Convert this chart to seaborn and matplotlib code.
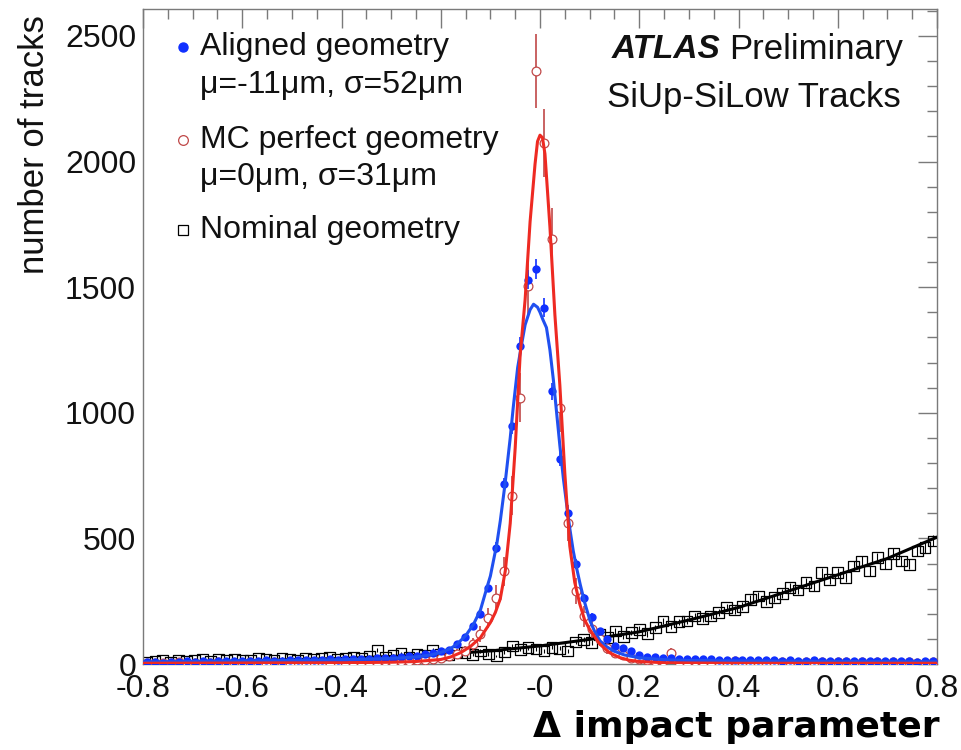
import numpy as np
import pandas as pd
import matplotlib
matplotlib.use("Agg")
import matplotlib.pyplot as plt
import seaborn as sns
from matplotlib.ticker import MultipleLocator, FixedLocator, FixedFormatter

# ---------------------------------------------------------------
# Histogram binning: 100 bins over [-0.8, 0.8]
# ---------------------------------------------------------------
x_min, x_max, n_bins = -0.8, 0.8, 100

# Track counts per bin
aligned_counts = [
    6, 8, 5, 9, 7, 10, 8, 11, 9, 10,
    12, 10, 13, 11, 12, 14, 12, 13, 15, 14,
    16, 15, 17, 18, 16, 19, 18, 20, 21, 22,
    24, 23, 27, 30, 33, 38, 45, 50, 56, 78,
    108, 152, 198, 304, 463, 715, 947, 1266, 1530, 1572,
    1418, 1085, 815, 600, 397, 264, 188, 131, 98, 70,
    64, 52, 34, 29, 26, 24, 22, 21, 20, 19,
    18, 19, 17, 16, 17, 15, 16, 15, 14, 15,
    13, 14, 13, 12, 14, 12, 13, 11, 12, 13,
    11, 12, 10, 11, 12, 10, 11, 9, 10, 12,
]

mc_perfect_counts = [
    3, 5, 2, 4, 6, 3, 5, 4, 3, 6,
    4, 5, 3, 6, 4, 5, 7, 4, 5, 6,
    5, 7, 6, 5, 8, 6, 7, 9, 8, 7,
    10, 9, 12, 11, 14, 16, 20, 24, 30, 40,
    52, 78, 120, 184, 264, 370, 670, 1060, 1505, 2360,
    2074, 1690, 1020, 560, 290, 190, 140, 100, 62, 44,
    35, 22, 18, 14, 12, 10, 45, 9, 8, 10,
    7, 9, 8, 6, 10, 7, 8, 6, 9, 7,
    6, 8, 5, 7, 6, 9, 5, 7, 6, 5,
    7, 5, 6, 4, 7, 5, 6, 4, 5, 6,
]

nominal_counts = [
    6, 10, 14, 8, 16, 12, 15, 18, 11, 17,
    14, 20, 16, 13, 21, 18, 15, 22, 19, 16,
    24, 18, 21, 26, 20, 23, 28, 22, 30, 55,
    26, 34, 42, 28, 38, 33, 55, 40, 36, 48,
    45, 38, 52, 40, 32, 48, 72, 58, 65, 60,
    52, 66, 62, 52, 88, 98, 85, 118, 105, 131,
    108, 125, 138, 120, 145, 171, 150, 168, 171, 191,
    182, 191, 205, 224, 215, 230, 258, 271, 250, 264,
    280, 304, 295, 324, 310, 363, 335, 363, 345, 390,
    410, 370, 423, 398, 440, 410, 397, 450, 463, 490,
]

# MC event weight used for the statistical errors of the simulated sample
mc_weight = 9.0

# Fitted curves sampled along the x axis
aligned_fit_x = [-0.80, -0.60, -0.40, -0.30, -0.25, -0.22, -0.20, -0.18, -0.168, -0.15,
                 -0.134, -0.12, -0.107, -0.10, -0.087, -0.08, -0.0705, -0.06, -0.054, -0.045,
                 -0.037, -0.03, -0.02, -0.013, -0.005, 0.0, 0.006, 0.013, 0.02, 0.027,
                 0.034, 0.04, 0.047, 0.054, 0.06, 0.067, 0.074, 0.081, 0.09, 0.101,
                 0.11, 0.121, 0.135, 0.148, 0.17, 0.20, 0.25, 0.30, 0.40, 0.60, 0.80]
aligned_fit_y = [8, 12, 17, 22, 28, 36, 46, 62, 78, 112,
                 158, 215, 304, 350, 478, 570, 716, 900, 1020, 1180,
                 1273, 1350, 1410, 1432, 1420, 1400, 1370, 1339, 1250, 1130,
                 990, 870, 740, 630, 540, 450, 380, 317, 245, 171,
                 130, 92, 68, 52, 36, 25, 17, 14, 12, 10, 9]

mc_fit_x = [-0.80, -0.60, -0.40, -0.30, -0.25, -0.20, -0.18, -0.16, -0.14, -0.12,
            -0.10, -0.09, -0.08, -0.07, -0.06, -0.05, -0.04, -0.03, -0.02, -0.01,
            -0.005, 0.0, 0.005, 0.01, 0.02, 0.03, 0.04, 0.05, 0.06, 0.07,
            0.08, 0.09, 0.10, 0.12, 0.14, 0.16, 0.18, 0.20, 0.25, 0.30, 0.40, 0.60, 0.80]
mc_fit_y = [3, 4, 5, 7, 10, 18, 28, 45, 70, 105,
            165, 205, 260, 370, 560, 860, 1230, 1450, 1760, 1990,
            2080, 2105, 2095, 2030, 1740, 1390, 1110, 760, 470, 325,
            240, 175, 138, 80, 45, 26, 15, 10, 5, 4, 3, 3, 3]

nominal_fit_x = [-0.8, -0.6, -0.4, -0.2, -0.1, 0.0, 0.1, 0.2, 0.3, 0.4, 0.5, 0.6, 0.7, 0.8]
nominal_fit_y = [5, 12, 22, 38, 52, 72, 98, 128, 175, 225, 290, 355, 420, 505]

# Text
legend_entries = [
    ("Aligned geometry", "\u03bc=-11\u03bcm, \u03c3=52\u03bcm"),
    ("MC perfect geometry", "\u03bc=0\u03bcm, \u03c3=31\u03bcm"),
    ("Nominal geometry", None),
]
x_tick_values = [-0.8, -0.6, -0.4, -0.2, 0.0, 0.2, 0.4, 0.6, 0.8]
x_tick_labels = ["-0.8", "-0.6", "-0.4", "-0.2", "-0", "0.2", "0.4", "0.6", "0.8"]
y_tick_values = [0, 500, 1000, 1500, 2000, 2500]
y_tick_labels = ["0", "500", "1000", "1500", "2000", "2500"]

# ---------------------------------------------------------------
bin_width = (x_max - x_min) / n_bins
centers = x_min + (np.arange(n_bins) + 0.5) * bin_width

hist = pd.DataFrame({
    "x": centers,
    "aligned": aligned_counts,
    "mc": mc_perfect_counts,
    "nominal": nominal_counts,
})
hist["aligned_err"] = np.sqrt(hist["aligned"])
hist["mc_err"] = np.sqrt(mc_weight * hist["mc"])
hist["nominal_err"] = np.sqrt(hist["nominal"])

sns.set_theme(style="white")
plt.rcParams["font.family"] = ["Liberation Sans", "DejaVu Sans"]

BLUE = "#1030ff"
BLUE_LINE = "#2050f0"
RED_LINE = "#ee2a22"
RED_MARK = "#c04848"
FRAME = "#7a7a7a"
INK = "#111111"

fig = plt.figure(figsize=(9.61, 7.5), dpi=100)
ax = fig.add_axes([143 / 961, 86 / 750, 794 / 961, 654.7 / 750])

# nominal geometry
ax.errorbar(hist["x"], hist["nominal"], yerr=hist["nominal_err"], fmt="none",
            ecolor="black", elinewidth=0.8, zorder=2)
sns.scatterplot(data=hist, x="x", y="nominal", ax=ax, marker="s", s=60,
                facecolor="none", edgecolor="black", linewidth=0.9, zorder=2)
sns.lineplot(x=nominal_fit_x, y=nominal_fit_y, ax=ax, color="black", linewidth=2.2,
             sort=False, estimator=None, zorder=3)

# MC perfect geometry
ax.errorbar(hist["x"], hist["mc"], yerr=hist["mc_err"], fmt="none",
            ecolor=RED_MARK, elinewidth=1.2, zorder=4)
sns.scatterplot(data=hist, x="x", y="mc", ax=ax, marker="o", s=40,
                facecolor="white", edgecolor=RED_MARK, linewidth=0.9, zorder=4)

# aligned geometry
ax.errorbar(hist["x"], hist["aligned"], yerr=hist["aligned_err"], fmt="none",
            ecolor=BLUE, elinewidth=1.2, zorder=5)
sns.scatterplot(data=hist, x="x", y="aligned", ax=ax, marker="o", s=36,
                color=BLUE, linewidth=0, zorder=5)
sns.lineplot(x=aligned_fit_x, y=aligned_fit_y, ax=ax, color=BLUE_LINE, linewidth=2.2,
             sort=False, estimator=None, zorder=6)
sns.lineplot(x=mc_fit_x, y=mc_fit_y, ax=ax, color=RED_LINE, linewidth=2.2,
             sort=False, estimator=None, zorder=7)

# axes
ax.set_xlim(x_min, x_max)
ax.set_ylim(0, 2606)
ax.set_xlabel("")
ax.set_ylabel("")
ax.xaxis.set_major_locator(FixedLocator(x_tick_values))
ax.xaxis.set_major_formatter(FixedFormatter(x_tick_labels))
ax.xaxis.set_minor_locator(MultipleLocator(0.05))
ax.yaxis.set_major_locator(FixedLocator(y_tick_values))
ax.yaxis.set_major_formatter(FixedFormatter(y_tick_labels))
ax.yaxis.set_minor_locator(MultipleLocator(100))
ax.tick_params(which="both", direction="in", top=True, right=True, color=FRAME,
               width=1.0, labelsize=23, labelcolor=INK)
ax.tick_params(which="major", length=14)
ax.tick_params(which="minor", length=7)
ax.tick_params(axis="x", pad=7)
ax.tick_params(axis="y", pad=5)
for sp in ax.spines.values():
    sp.set_color(FRAME)
    sp.set_linewidth(1.0)
    sp.set_visible(True)

# legend drawn in axes coordinates
tr = ax.transAxes
mx, tx = 0.0504, 0.0718
ax.plot([mx], [0.9424], marker="o", ms=6.5, color=BLUE, mec=BLUE, transform=tr, clip_on=False, zorder=9)
ax.plot([mx], [0.800], marker="o", ms=7, mfc="white", mec=RED_MARK, mew=0.9, transform=tr, clip_on=False, zorder=9)
ax.plot([mx], [0.663], marker="s", ms=7.5, mfc="white", mec="black", mew=0.9, transform=tr, clip_on=False, zorder=9)
text_rows = [0.9424, 0.884, 0.800, 0.744, 0.663]
lines = []
for title, sub in legend_entries:
    lines.append(title)
    if sub:
        lines.append(sub)
for yy, s in zip(text_rows, lines):
    ax.text(tx, yy, s, transform=tr, fontsize=23, va="center", ha="left", color=INK, zorder=9)

# experiment label
atlas = ax.text(0.5907, 0.938, "ATLAS", transform=tr, fontsize=24, fontweight="bold",
                fontstyle="italic", va="center", ha="left", color=INK)
ax.annotate("Preliminary", xy=(1.0, 0.5), xycoords=atlas, xytext=(6, 0),
            textcoords="offset points", fontsize=25, va="center", ha="left", color=INK)
ax.text(0.584, 0.866, "SiUp-SiLow Tracks", transform=tr, fontsize=25, va="center",
        ha="left", color=INK)

# axis titles
fig.text(35 / 961, 1 - 15 / 750, "number of tracks", rotation=90, ha="center", va="top",
         fontsize=25, color=INK)
fig.text(940 / 961, 1 - 737 / 750, "\u0394 impact parameter", ha="right", va="baseline",
         fontsize=26, fontweight="bold", family="DejaVu Sans", color="black")

fig.savefig("out.png", dpi=100)
